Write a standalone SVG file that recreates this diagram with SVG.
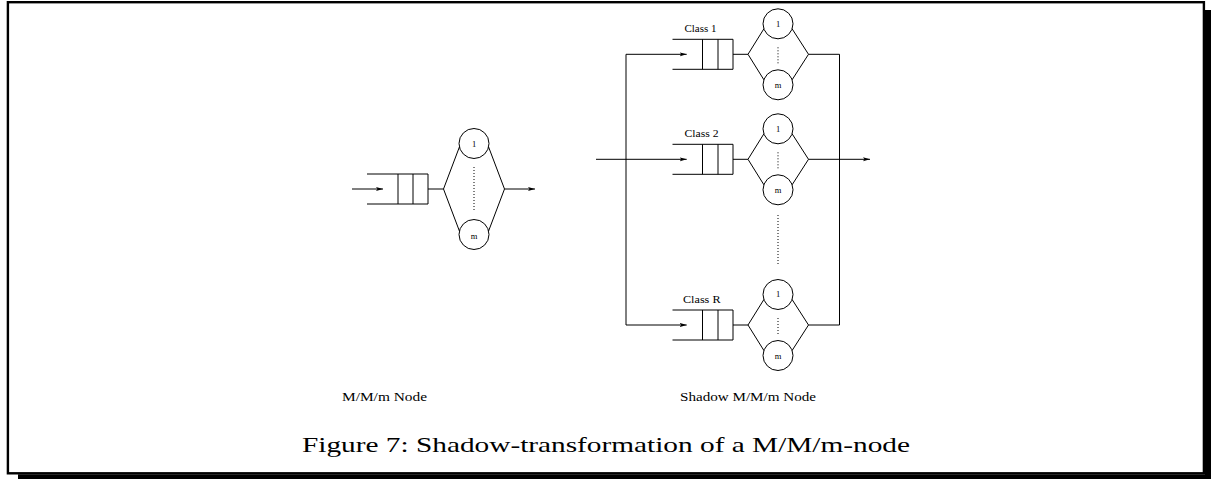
<svg xmlns="http://www.w3.org/2000/svg" width="1211" height="479" viewBox="0 0 1211 479">
<style>
.ln{fill:none;stroke:#000;stroke-width:1}
.dot{fill:none;stroke:#000;stroke-width:1;stroke-dasharray:1 2}
.t{font-family:"Liberation Serif","Times New Roman",serif;fill:#000}
.sm{font-size:8.5px;text-anchor:middle}
.cl{font-size:11px}
.lb{font-size:12.5px}
.cap{font-size:21px}
</style>
<defs>
<marker id="ah" markerUnits="userSpaceOnUse" markerWidth="9" markerHeight="6" refX="7" refY="3" orient="auto">
<path d="M0,1 L7,3 L0,5 L1.5,3 z" fill="#000"/>
</marker>
</defs>
<rect width="1211" height="479" fill="#fff"/>
<g id="frame">
<rect x="7.9" y="2.2" width="1196" height="471.1" fill="none" stroke="#000" stroke-width="2.4"/>
<rect x="1205" y="10" width="6" height="469" fill="#000"/>
<rect x="18" y="474.3" width="1193" height="4.7" fill="#000"/>
</g>

<g id="mmm-node">
<path class="ln" d="M367,174 H428 M367,204 H428 M398,174 V204 M413,174 V204 M428,174 V204 M428,189 H443.5"/>
<circle class="ln" cx="474" cy="143.5" r="15"/>
<circle class="ln" cx="474" cy="234.5" r="15"/>
<path class="ln" d="M459.4,147 L443.5,189 L459.4,231 M488.6,147 L504.5,189 L488.6,231"/>
<path class="dot" d="M474,167 V211"/>
<text class="t sm" x="474" y="147" font-size="9">1</text>
<text class="t sm" x="474" y="239" font-size="9">m</text>
</g>

<g id="class1" transform="translate(0,54.3)">
<path class="ln" d="M672.5,-15 H733 M672.5,15 H733 M702.5,-15 V15 M718,-15 V15 M733,-15 V15 M733,0 H748"/>
<circle class="ln" cx="778" cy="-30.5" r="15"/>
<circle class="ln" cx="778" cy="30.5" r="15"/>
<path class="ln" d="M763.9,-25.5 L748,0 L763.9,25.5 M792.1,-25.5 L808.5,0 L792.1,25.5"/>
<path class="dot" d="M778,-7 V9"/>
<text class="t sm" x="778" y="-27.6">1</text>
<text class="t sm" x="778" y="34">m</text>
<text class="t cl" x="684.5" y="-22.6" textLength="32" lengthAdjust="spacingAndGlyphs">Class 1</text>
</g>

<g id="class2" transform="translate(0,159.3)">
<path class="ln" d="M672.5,-15 H733 M672.5,15 H733 M702.5,-15 V15 M718,-15 V15 M733,-15 V15 M733,0 H748"/>
<circle class="ln" cx="778" cy="-30.5" r="15"/>
<circle class="ln" cx="778" cy="30.5" r="15"/>
<path class="ln" d="M763.9,-25.5 L748,0 L763.9,25.5 M792.1,-25.5 L808.5,0 L792.1,25.5"/>
<path class="dot" d="M778,-7 V9"/>
<text class="t sm" x="778" y="-27.6">1</text>
<text class="t sm" x="778" y="34">m</text>
<text class="t cl" x="684.5" y="-22.6" textLength="34" lengthAdjust="spacingAndGlyphs">Class 2</text>
</g>

<g id="classR" transform="translate(0,325)">
<path class="ln" d="M672.5,-15 H733 M672.5,15 H733 M702.5,-15 V15 M718,-15 V15 M733,-15 V15 M733,0 H748"/>
<circle class="ln" cx="778" cy="-30.5" r="15"/>
<circle class="ln" cx="778" cy="30.5" r="15"/>
<path class="ln" d="M763.9,-25.5 L748,0 L763.9,25.5 M792.1,-25.5 L808.5,0 L792.1,25.5"/>
<path class="dot" d="M778,-7 V9"/>
<text class="t sm" x="778" y="-27.6">1</text>
<text class="t sm" x="778" y="34">m</text>
<text class="t cl" x="683" y="-22" textLength="37.5" lengthAdjust="spacingAndGlyphs">Class R</text>
</g>

<g id="connectors">
<path class="ln" d="M352,189 H383" marker-end="url(#ah)"/>
<path class="ln" d="M504.5,189 H535" marker-end="url(#ah)"/>
<path class="ln" d="M596,159.3 H626 M626,54.3 V325 M808.5,54.3 H839.5 M808.5,159.3 H839.5 M808.5,325 H839.5 M839.5,54.3 V325"/>
<path class="ln" d="M626,54.3 H686.7" marker-end="url(#ah)"/>
<path class="ln" d="M626,159.3 H686.7" marker-end="url(#ah)"/>
<path class="ln" d="M626,325 H686.7" marker-end="url(#ah)"/>
<path class="ln" d="M839.5,159.3 H870" marker-end="url(#ah)"/>
<path class="dot" d="M778,215 V264"/>
</g>

<g id="labels">
<text class="t lb" x="342" y="400.7" textLength="85" lengthAdjust="spacingAndGlyphs">M/M/m Node</text>
<text class="t lb" x="680" y="400.7" textLength="136" lengthAdjust="spacingAndGlyphs">Shadow M/M/m Node</text>
<text class="t cap" x="302" y="452" textLength="608" lengthAdjust="spacingAndGlyphs">Figure 7: Shadow-transformation of a M/M/m-node</text>
</g>
</svg>
